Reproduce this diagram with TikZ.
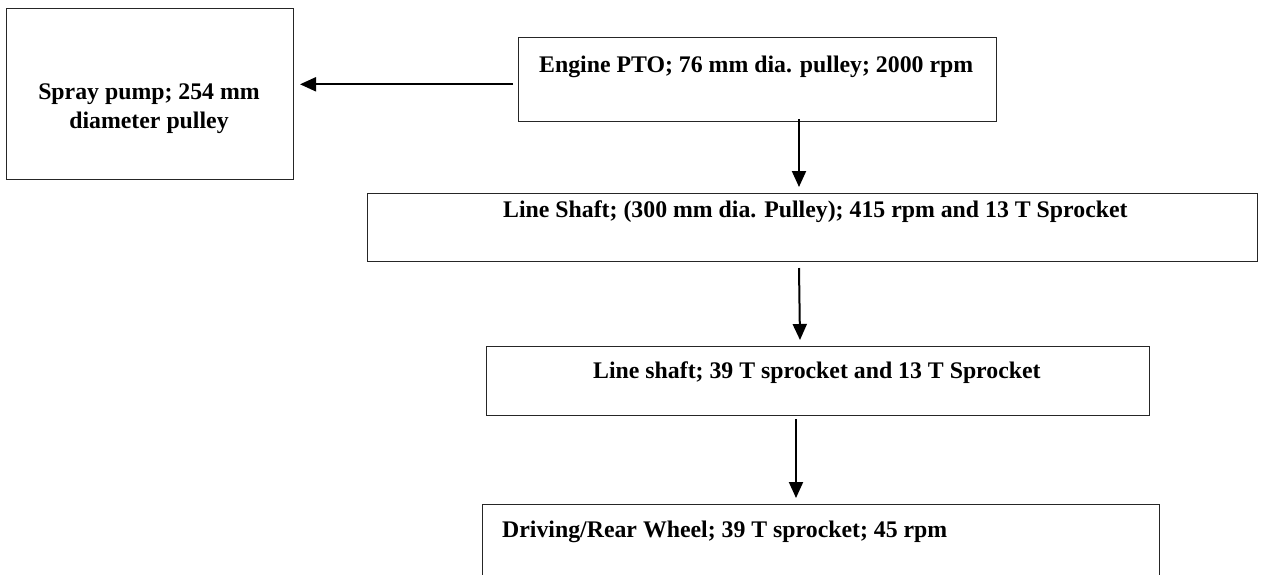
\documentclass[tikz,border=0pt]{standalone}
\usepackage{fontspec}
\setmainfont{Liberation Serif}
\usetikzlibrary{arrows.meta}
\begin{document}
\begin{tikzpicture}[x=1pt,y=-1pt,
  box/.style={draw=black!85,line width=1.1pt,anchor=north west,inner sep=0pt,fill=none},
  lbl/.style={font=\fontsize{23.8}{27}\selectfont\bfseries,inner sep=0pt},
  arr/.style={line width=2pt,-{Triangle[length=16pt,width=14pt]}}]
\useasboundingbox (0,0) rectangle (1264,574);
\clip (0,0) rectangle (1264,574);
% boxes
\node[box,minimum width=287pt,minimum height=171pt] (spray) at (6,8) {};
\node[box,minimum width=478pt,minimum height=84pt] (eng) at (518,37) {};
\node[box,minimum width=890pt,minimum height=68pt] (ls1) at (367,193) {};
\node[box,minimum width=663pt,minimum height=69pt] (ls2) at (486,346) {};
\node[box,minimum width=677pt,minimum height=110pt] (wheel) at (482,504) {};
% texts
\node[lbl,anchor=base] (spt1) at (149,99.5) {Spray pump; 254 mm};
\node[lbl,anchor=base] (spt2) at (149,128) {diameter pulley};
\node[lbl,anchor=base west] (engt) at (539,72) {Engine PTO; 76 mm dia. pulley; 2000 rpm};
\node[lbl,anchor=base west] (ls1t) at (503,217) {Line Shaft; (300 mm dia. Pulley); 415 rpm and 13 T Sprocket};
\node[lbl,anchor=base west] (ls2t) at (593,378.5) {Line shaft; 39 T sprocket and 13 T Sprocket};
\node[lbl,anchor=base west] (wht) at (502,537) {Driving/Rear Wheel; 39 T sprocket; 45 rpm};
% connector end points
\coordinate (a0s) at (513,84.3);
\coordinate (a0e) at (300,84.3);
\coordinate (a1s) at (799,119);
\coordinate (a1e) at (799,187);
\coordinate (a2s) at (799,268);
\coordinate (a2e) at (800,340);
\coordinate (a3s) at (796,419);
\coordinate (a3e) at (796,498);
\draw[arr] (a0s) -- (a0e);
\draw[arr] (a1s) -- (a1e);
\draw[arr] (a2s) -- (a2e);
\draw[arr] (a3s) -- (a3e);
\end{tikzpicture}
\end{document}
